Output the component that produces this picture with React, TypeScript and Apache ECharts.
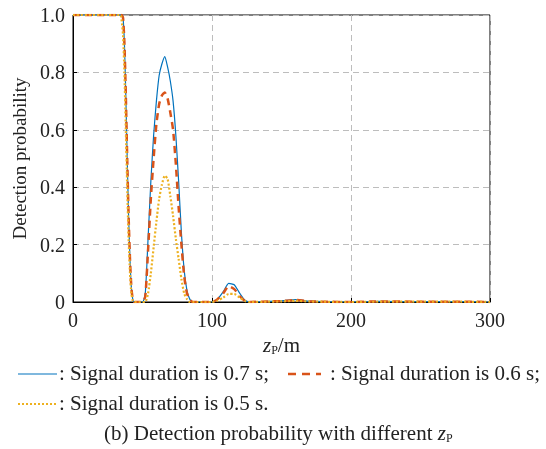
import React, { useEffect, useRef } from "react";
import * as echarts from "echarts";

const zP = [0, 34, 35, 36, 37, 38, 39, 40, 41, 42, 43, 44, 50, 52, 54, 56, 58, 60, 62, 64, 66, 68, 70, 72, 74, 76, 78, 80, 82, 84, 86, 90, 100, 104, 108, 112, 116, 120, 124, 128, 140, 150, 160, 170, 180, 200, 220, 250, 280, 300];
const p07 = [1, 1, 1, 0.99, 0.9, 0.72, 0.5, 0.3, 0.15, 0.05, 0.01, 0, 0, 0.03, 0.22, 0.42, 0.58, 0.7, 0.79, 0.83, 0.855, 0.82, 0.77, 0.7, 0.58, 0.42, 0.24, 0.11, 0.04, 0.01, 0, 0, 0, 0.01, 0.035, 0.065, 0.06, 0.03, 0.005, 0, 0.002, 0.004, 0.008, 0.003, 0.001, 0, 0.002, 0.001, 0.001, 0];
const p06 = [1, 1, 1, 0.99, 0.9, 0.72, 0.5, 0.3, 0.15, 0.05, 0.01, 0, 0, 0.02, 0.18, 0.36, 0.5, 0.62, 0.69, 0.72, 0.73, 0.71, 0.66, 0.6, 0.48, 0.33, 0.2, 0.09, 0.03, 0.01, 0, 0, 0, 0.01, 0.03, 0.055, 0.045, 0.02, 0.003, 0, 0.002, 0.003, 0.007, 0.003, 0.001, 0, 0.002, 0.001, 0.001, 0];
const p05 = [1, 1, 0.98, 0.93, 0.8, 0.6, 0.4, 0.22, 0.1, 0.03, 0.005, 0, 0, 0, 0.03, 0.1, 0.19, 0.28, 0.36, 0.41, 0.44, 0.43, 0.37, 0.3, 0.22, 0.15, 0.08, 0.03, 0.01, 0, 0, 0, 0, 0.005, 0.015, 0.028, 0.028, 0.015, 0.003, 0, 0.001, 0.002, 0.004, 0.002, 0.001, 0, 0.001, 0.001, 0.001, 0];

const xTicks = [0, 100, 200, 300];
const yTicks = [0, 0.2, 0.4, 0.6, 0.8, 1.0];
const legendLabels = [": Signal duration is 0.7 s;", ": Signal duration is 0.6 s;", ": Signal duration is 0.5 s."];
const caption = "(b) Detection probability with different ";

const FONT = "Liberation Serif";
const C1 = "#0072BD";
const C2 = "#D95319";
const C3 = "#EDB120";
const TXT = "#222";
const FS = 21;

export default function App() {
  const ref = useRef<HTMLDivElement>(null);
  useEffect(() => {
    if (!ref.current) return;
    const chart = echarts.init(ref.current, null, { renderer: "svg" });
    const mk = (arr: number[]) => zP.map((x, i) => [x, arr[i]]);
    const splitStyle = { show: true, lineStyle: { color: "#bdbdbd", type: [6, 4] as any, width: 1 } };
    const txt = (x: number, y: number, text: string) => ({
      type: "text", x, y,
      style: { text, fontSize: FS, fontFamily: FONT, fill: TXT, verticalAlign: "middle", align: "left" },
    });
    chart.setOption({
      animation: false,
      textStyle: { fontFamily: FONT },
      grid: { left: 73, right: 56, top: 15, bottom: 147, show: true, borderColor: "#000", borderWidth: 1, backgroundColor: "transparent" },
      xAxis: {
        type: "value", min: 0, max: 300, interval: 100,
        axisLine: { show: true, lineStyle: { color: "#000" } },
        axisTick: { show: true, inside: true, length: 4, lineStyle: { color: "#000" } },
        axisLabel: { color: TXT, fontSize: 20, fontFamily: FONT, margin: 8, formatter: (v: number) => (xTicks.includes(v) ? String(v) : "") },
        splitLine: splitStyle,
        name: "{i|z}{s|P}{n|/m}",
        nameLocation: "middle",
        nameGap: 31,
        nameTextStyle: {
          rich: {
            i: { fontSize: FS, fontStyle: "italic", fontFamily: FONT, color: TXT },
            s: { fontSize: 12, fontFamily: FONT, color: TXT, padding: [10, 0, 0, 0] },
            n: { fontSize: FS, fontFamily: FONT, color: TXT },
          },
        },
      },
      yAxis: {
        type: "value", min: 0, max: 1, interval: 0.2,
        axisLine: { show: true, lineStyle: { color: "#000" } },
        axisTick: { show: true, inside: true, length: 4, lineStyle: { color: "#000" } },
        axisLabel: { color: TXT, fontSize: 20, fontFamily: FONT, margin: 8, formatter: (v: number) => { const t = yTicks.find((y) => Math.abs(y - v) < 1e-6); return t === undefined ? "" : (t === 0 ? "0" : t.toFixed(1)); } },
        splitLine: splitStyle,
        name: "Detection probability",
        nameLocation: "middle",
        nameGap: 43,
        nameRotate: 90,
        nameTextStyle: { fontSize: 19, fontFamily: FONT, color: TXT },
      },
      series: [
        { type: "line", data: mk(p07), showSymbol: false, smooth: 0.2, lineStyle: { color: C1, width: 1.2 }, z: 3 },
        { type: "line", data: mk(p06), showSymbol: false, smooth: 0.2, lineStyle: { color: C2, width: 2.5, type: [7, 5] as any }, z: 4 },
        { type: "line", data: mk(p05), showSymbol: false, smooth: 0.2, lineStyle: { color: C3, width: 2.2, type: [2, 2] as any }, z: 5 },
      ],
      graphic: [
        { type: "line", shape: { x1: 18, y1: 374, x2: 57, y2: 374 }, style: { stroke: C1, lineWidth: 1.2 } },
        txt(59, 373, legendLabels[0]),
        { type: "line", shape: { x1: 288, y1: 374, x2: 321, y2: 374 }, style: { stroke: C2, lineWidth: 2.5, lineDash: [8, 6] } },
        txt(330, 373, legendLabels[1]),
        { type: "line", shape: { x1: 18, y1: 404, x2: 57, y2: 404 }, style: { stroke: C3, lineWidth: 2, lineDash: [2, 2] } },
        txt(59, 403, legendLabels[2]),
        {
          type: "text", x: 104, y: 433,
          style: {
            text: "{n|" + caption + "}{i|z}{s|P}",
            fill: TXT,
            verticalAlign: "middle",
            rich: {
              n: { fontSize: FS, fontFamily: FONT, fill: TXT },
              i: { fontSize: FS, fontStyle: "italic", fontFamily: FONT, fill: TXT },
              s: { fontSize: 12, fontFamily: FONT, fill: TXT, padding: [10, 0, 0, 0] },
            },
          },
        },
      ],
    });
    return () => chart.dispose();
  }, []);
  return <div ref={ref} style={{ width: 546, height: 449, position: "fixed", left: 0, top: 0 }} />;
}
